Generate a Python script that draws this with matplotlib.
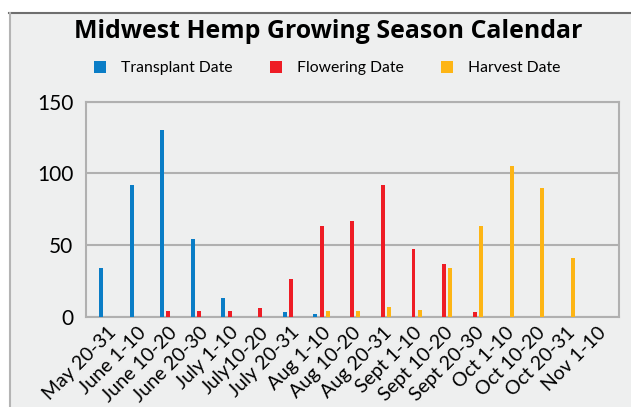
import matplotlib
matplotlib.use("Agg")
import matplotlib.pyplot as plt
from matplotlib.patches import Rectangle
from matplotlib.lines import Line2D
import numpy as np

categories = ["May 20-31", "June 1-10", "June 10-20", "June 20-30", "July 1-10",
              "July10-20", "July 20-31", "Aug 1-10", "Aug 10-20", "Aug 20-31",
              "Sept 1-10", "Sept 10-20", "Sept 20-30", "Oct 1-10", "Oct 10-20",
              "Oct 20-31", "Nov 1-10"]
transplant = [34, 92, 130, 54, 13, 0, 3, 2, 0, 0, 0, 0, 0, 0, 0, 0, 0]
flowering = [0, 0, 4, 4, 4, 6, 26, 63, 67, 92, 47, 37, 3, 0, 0, 0, 0]
harvest = [0, 0, 0, 0, 0, 0, 0, 4, 4, 7, 5, 34, 63, 105, 90, 41, 0]
series_names = ["Transplant Date", "Flowering Date", "Harvest Date"]
yticks = [0, 50, 100, 150]

colors = ["#0a7dc6", "#ee1c25", "#fdb515"]
bg = "#eeefef"
W, H = 631, 407
fig = plt.figure(figsize=(W / 100, H / 100), dpi=100)
fig.patch.set_facecolor("white")
fig.patches.append(Rectangle((9 / W, 0), 1, 1 - 13 / H, transform=fig.transFigure,
                             facecolor=bg, edgecolor="none", zorder=-5))
fig.add_artist(plt.Line2D([9 / W, 1], [1 - 13 / H, 1 - 13 / H], transform=fig.transFigure,
                          color="#6e6e6e", lw=1.5, zorder=-4))
fig.add_artist(plt.Line2D([9.5 / W, 9.5 / W], [0, 1 - 13 / H], transform=fig.transFigure,
                          color="#b4b4b4", lw=1.5, zorder=-4))

ax = fig.add_axes([85.7 / W, 1 - 316.7 / H, 533 / W, 215 / H])
ax.set_zorder(2)
ax.set_facecolor(bg)
x = np.arange(len(categories))
off = 0.2
w = 0.13
for i, (vals, c, n) in enumerate(zip([transplant, flowering, harvest], colors, series_names)):
    ax.bar(x + (i - 1) * off, vals, width=w, color=c, label=n, zorder=3, linewidth=0)

ax.set_xlim(-0.695, len(categories) - 1 + 0.695)
ax.set_ylim(0, 150)
ax.set_yticks(yticks)
ax.set_yticklabels([str(v) for v in yticks], fontsize=15, family="Lato")
ax.set_xticks(x)
ax.set_xticklabels(categories, rotation=45, ha="right", va="top",
                   rotation_mode="anchor", fontsize=14, family="Lato")
ax.tick_params(length=0, pad=5)
ax.tick_params(axis="y", pad=9)
ax.grid(axis="y", color="#b0b0b0", lw=1.5, zorder=1)
for s in ax.spines.values():
    s.set_color("#b0b0b0")
    s.set_linewidth(1.5)

fig.text(328 / W, 1 - 32 / H, "Midwest Hemp Growing Season Calendar",
         ha="center", va="center", fontsize=17.9, fontweight="bold", family="Open Sans")
handles = [Line2D([], [], marker="s", ls="", color=c, markersize=8.2, markeredgewidth=0)
           for c in colors]
fig.legend(handles, series_names, loc="center", bbox_to_anchor=(327 / W, 1 - 68 / H),
           ncol=3, frameon=False, handlelength=0.8, handletextpad=0.9, columnspacing=2.4,
           prop={"family": "Lato", "size": 11.3})

fig.savefig("out.png", dpi=100, facecolor=fig.get_facecolor())
